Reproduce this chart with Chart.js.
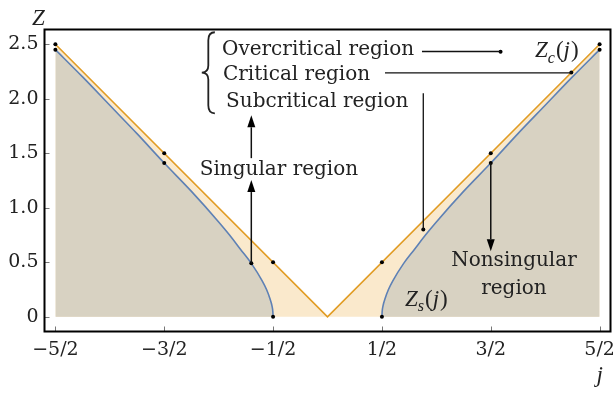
<!DOCTYPE html>
<html>
<head>
<meta charset="utf-8">
<script src="https://cdn.jsdelivr.net/npm/chart.js@4.4.1/dist/chart.umd.min.js"></script>
<style>
  html, body { margin: 0; padding: 0; background: #fff; }
  #chart { display: block; }
</style>
</head>
<body>
<canvas id="chart" width="615" height="394"></canvas>
<script>
// critical line Z_c(j)
const zcJ = [-2.5, 0, 2.5];
const zcZ = [2.5, 0, 2.5];

// singular boundary Z_s(j), right branch (the left one is its mirror)
const zsJ = [0.5, 0.502, 0.51, 0.53, 0.56, 0.6, 0.7, 0.8, 0.9, 1.0, 1.25, 1.5, 1.75, 2.0, 2.25, 2.5];
const zsZ = [0, 0.045, 0.1, 0.17, 0.25, 0.33, 0.49, 0.62, 0.75, 0.87, 1.15, 1.41, 1.68, 1.94, 2.2, 2.45];

// marked points
const dotJ = [-2.5, -2.5, -1.5, -1.5, -0.7, -0.5, -0.5, 0.5, 0.5, 0.88, 1.5, 1.5, 2.5, 2.5, 2.24, 1.59];
const dotZ = [2.5, 2.45, 1.5, 1.41, 0.49, 0.5, 0, 0, 0.5, 0.8, 1.5, 1.41, 2.5, 2.45, 2.24, 2.43];

const xTicks = [-2.5, -1.5, -0.5, 0.5, 1.5, 2.5];
const xTickLabels = ["−5/2", "−3/2", "−1/2", "1/2", "3/2", "5/2"];
const yTicks = [0, 0.5, 1, 1.5, 2, 2.5];
const yTickLabels = ["0", "0.5", "1.0", "1.5", "2.0", "2.5"];

const textFont = '20px "DejaVu Serif"';
const mathFont = '"Liberation Serif"';
const ink = '#222';

// annotations, in data units
const connectors = [
    [[0.868, 2.433], [1.59, 2.433]],
    [[0.528, 2.237], [2.24, 2.237]],
    [[0.88, 2.05], [0.88, 0.8]]
];
const arrows = [
    [[-0.7, 0.49], [-0.7, 1.254]],
    [[-0.7, 1.455], [-0.7, 1.848]],
    [[1.5, 1.41], [1.5, 0.6]]
];
const labels = [
    { text: "Overcritical region", x: -0.969, y: 2.397, align: "left" },
    { text: "Critical region", x: -0.960, y: 2.168, align: "left" },
    { text: "Subcritical region", x: -0.932, y: 1.921, align: "left" },
    { text: "Singular region", x: -0.446, y: 1.300, align: "center" },
    { text: "Nonsingular", x: 1.713, y: 0.468, align: "center" },
    { text: "region", x: 1.713, y: 0.212, align: "center" }
];

function pt(chart, p) {
    return [chart.scales.x.getPixelForValue(p[0]), chart.scales.y.getPixelForValue(p[1])];
}

function mathText(ctx, x, y, parts, size) {
    let cx = x;
    parts.forEach(p => {
        const fs = p.sub ? size * 0.7 : size;
        ctx.font = (p.it ? 'italic ' : '') + fs + 'px ' + mathFont;
        ctx.fillText(p.t, cx, y + (p.sub ? size * 0.25 : 0));
        cx += ctx.measureText(p.t).width + (p.gap || 0);
    });
}

const decorations = {
    id: 'decorations',
    afterDraw(chart) {
        const ctx = chart.ctx;
        const a = chart.chartArea;
        const xs = chart.scales.x, ys = chart.scales.y;
        ctx.save();

        // inner ticks
        ctx.strokeStyle = '#777';
        ctx.lineWidth = 1;
        ctx.beginPath();
        xTicks.forEach(v => {
            const p = Math.round(xs.getPixelForValue(v)) + 0.5;
            ctx.moveTo(p, a.bottom);
            ctx.lineTo(p, a.bottom - 5);
        });
        yTicks.forEach(v => {
            const p = Math.round(ys.getPixelForValue(v)) + 0.5;
            ctx.moveTo(a.left, p);
            ctx.lineTo(a.left + 5, p);
        });
        ctx.stroke();

        // frame
        ctx.strokeStyle = '#000';
        ctx.lineWidth = 2;
        ctx.strokeRect(a.left, a.top, a.right - a.left, a.bottom - a.top);

        // connectors
        ctx.lineWidth = 1.3;
        ctx.strokeStyle = '#111';
        connectors.forEach(c => {
            const p0 = pt(chart, c[0]), p1 = pt(chart, c[1]);
            ctx.beginPath();
            ctx.moveTo(p0[0], p0[1]);
            ctx.lineTo(p1[0], p1[1]);
            ctx.stroke();
        });

        // arrows
        ctx.fillStyle = '#000';
        ctx.lineWidth = 1.5;
        arrows.forEach(c => {
            const p0 = pt(chart, c[0]), p1 = pt(chart, c[1]);
            const dir = Math.sign(p1[1] - p0[1]);
            const hl = 12, hw = 4;
            ctx.beginPath();
            ctx.moveTo(p0[0], p0[1]);
            ctx.lineTo(p1[0], p1[1] - dir * hl);
            ctx.stroke();
            ctx.beginPath();
            ctx.moveTo(p1[0], p1[1]);
            ctx.lineTo(p1[0] - hw, p1[1] - dir * hl);
            ctx.lineTo(p1[0] + hw, p1[1] - dir * hl);
            ctx.closePath();
            ctx.fill();
        });

        // brace
        const bt = pt(chart, [-1.035, 2.61]);
        const bm = pt(chart, [-1.155, 2.24]);
        const bb = pt(chart, [-1.035, 1.866]);
        const bx = (bt[0] + bm[0]) / 2;
        ctx.lineWidth = 1.8;
        ctx.strokeStyle = '#222';
        ctx.beginPath();
        ctx.moveTo(bt[0], bt[1]);
        ctx.quadraticCurveTo(bx, bt[1], bx, bt[1] + 8);
        ctx.lineTo(bx, bm[1] - 7);
        ctx.quadraticCurveTo(bx, bm[1], bm[0], bm[1]);
        ctx.quadraticCurveTo(bx, bm[1], bx, bm[1] + 7);
        ctx.lineTo(bx, bb[1] - 8);
        ctx.quadraticCurveTo(bx, bb[1], bb[0], bb[1]);
        ctx.stroke();

        // region labels
        ctx.fillStyle = ink;
        ctx.font = textFont;
        ctx.textBaseline = 'alphabetic';
        labels.forEach(l => {
            const p = pt(chart, [l.x, l.y]);
            ctx.textAlign = l.align;
            ctx.fillText(l.text, p[0], p[1]);
        });

        // curve names
        ctx.textAlign = 'left';
        const zs = pt(chart, [0.712, 0.102]);
        mathText(ctx, zs[0], zs[1], [
            { t: 'Z', it: true }, { t: 's', it: true, sub: true, gap: 1 },
            { t: '(' }, { t: 'j', it: true, gap: 1 }, { t: ')' }
        ], 23);
        const zc = pt(chart, [1.906, 2.38]);
        mathText(ctx, zc[0], zc[1], [
            { t: 'Z', it: true }, { t: 'c', it: true, sub: true, gap: 1 },
            { t: '(' }, { t: 'j', it: true, gap: 1 }, { t: ')' }
        ], 23);

        // axis names
        ctx.textAlign = 'center';
        ctx.font = 'italic 23px ' + mathFont;
        ctx.fillText('Z', a.left - 6, a.top - 4.5);
        ctx.fillText('j', xs.getPixelForValue(2.5), 382);

        ctx.restore();
    }
};

const leftBranch = zsJ.map((j, i) => ({ x: -j, y: zsZ[i] })).reverse();
const rightBranch = zsJ.map((j, i) => ({ x: j, y: zsZ[i] }));
const critLine = zcJ.map((j, i) => ({ x: j, y: zcZ[i] }));
const dots = dotJ.map((j, i) => ({ x: j, y: dotZ[i] }));

const tickFont = { family: 'DejaVu Serif', size: 19 };

new Chart(document.getElementById('chart'), {
    type: 'scatter',
    data: {
        datasets: [
            {
                data: dots,
                pointRadius: 2,
                pointBackgroundColor: '#000',
                pointBorderWidth: 0,
                showLine: false
            },
            {
                data: leftBranch,
                showLine: true,
                borderColor: '#5E81B5',
                borderWidth: 1.6,
                backgroundColor: '#D8D2C2',
                fill: 'origin',
                pointRadius: 0,
                cubicInterpolationMode: 'monotone'
            },
            {
                data: rightBranch,
                showLine: true,
                borderColor: '#5E81B5',
                borderWidth: 1.6,
                backgroundColor: '#D8D2C2',
                fill: 'origin',
                pointRadius: 0,
                cubicInterpolationMode: 'monotone'
            },
            {
                data: critLine,
                showLine: true,
                borderColor: '#E19C24',
                borderWidth: 1.6,
                backgroundColor: '#FAE9CC',
                fill: 'origin',
                pointRadius: 0
            }
        ]
    },
    options: {
        responsive: false,
        animation: false,
        devicePixelRatio: 1,
        layout: { padding: { top: 29.5, right: 4.5, left: 0, bottom: 0 } },
        plugins: { legend: { display: false }, tooltip: { enabled: false } },
        scales: {
            x: {
                type: 'linear',
                min: -2.6,
                max: 2.6,
                grid: { display: false, drawTicks: false },
                border: { display: false },
                afterBuildTicks: s => { s.ticks = xTicks.map(v => ({ value: v })); },
                afterFit: s => { s.height = 62.5; s.paddingLeft = 0; s.paddingRight = 0; },
                ticks: {
                    autoSkip: false,
                    maxRotation: 0,
                    minRotation: 0,
                    padding: 7,
                    color: ink,
                    font: tickFont,
                    callback: (v, i) => xTickLabels[i]
                }
            },
            y: {
                type: 'linear',
                min: -0.135,
                max: 2.635,
                grid: { display: false, drawTicks: false },
                border: { display: false },
                afterBuildTicks: s => { s.ticks = yTicks.map(v => ({ value: v })); },
                afterFit: s => { s.width = 44.5; s.paddingTop = 0; s.paddingBottom = 0; },
                ticks: {
                    autoSkip: false,
                    padding: 6,
                    color: ink,
                    font: tickFont,
                    callback: (v, i) => yTickLabels[i]
                }
            }
        }
    },
    plugins: [decorations]
});
</script>
</body>
</html>
